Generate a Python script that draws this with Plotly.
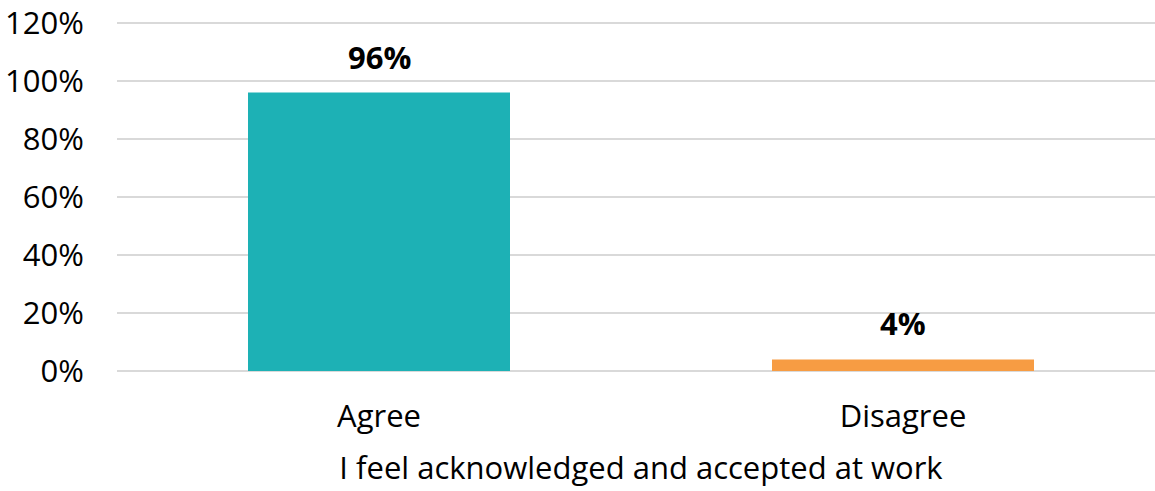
"""Bar chart: I feel acknowledged and accepted at work."""

import plotly.graph_objects as go

categories = ["Agree", "Disagree"]
values = [96, 4]
bar_colors = ["#1DB1B5", "#F79C43"]
y_ticks = [0, 20, 40, 60, 80, 100, 120]
y_tick_labels = [f"{v}%" for v in y_ticks]
axis_title = "I feel acknowledged and accepted at work"

FONT = "Open Sans, Noto Sans, sans-serif"
SIZE = 31

fig = go.Figure()

fig.add_trace(
    go.Bar(
        x=categories,
        y=values,
        marker_color=bar_colors,
        marker_line_width=0,
        hoverinfo="x+y",
    )
)

# value labels sit a little above each bar
for cat, val in zip(categories, values):
    fig.add_annotation(
        x=cat,
        y=val,
        text=f"<b>{val}%</b>",
        showarrow=False,
        yanchor="middle",
        yshift=36,
        font=dict(family=FONT, size=SIZE, color="#000000"),
    )

# plot area runs slightly past the right edge of the window, like the original
fig.update_layout(
    width=1165,
    height=491,
    margin=dict(l=117, r=0, t=22, b=120, autoexpand=False),
    paper_bgcolor="white",
    plot_bgcolor="white",
    bargap=0.5,
    showlegend=False,
    font=dict(family=FONT, size=SIZE, color="#000000"),
)

fig.update_xaxes(
    title=dict(text=axis_title, font=dict(family=FONT, size=SIZE), standoff=22),
    showgrid=False,
    showline=False,
    zeroline=False,
    automargin=False,
    ticks="outside",
    ticklen=18,
    tickcolor="white",
    tickfont=dict(family=FONT, size=SIZE),
)

# range top nudged past 120 so the 120% gridline is not dropped at the edge
fig.update_yaxes(
    range=[0, 120.35],
    tickvals=y_ticks,
    ticktext=y_tick_labels,
    showgrid=True,
    gridcolor="#D9D9D9",
    gridwidth=2,
    zeroline=True,
    zerolinecolor="#D9D9D9",
    zerolinewidth=2,
    showline=False,
    automargin=False,
    ticks="outside",
    ticklen=26,
    tickcolor="white",
    tickfont=dict(family=FONT, size=SIZE),
)

# drop the default body margin so the figure sits flush in the window
fig.write_html(
    "out.html",
    config={"displayModeBar": False},
    post_script="document.body.style.margin='0';document.body.style.overflow='hidden';",
)
